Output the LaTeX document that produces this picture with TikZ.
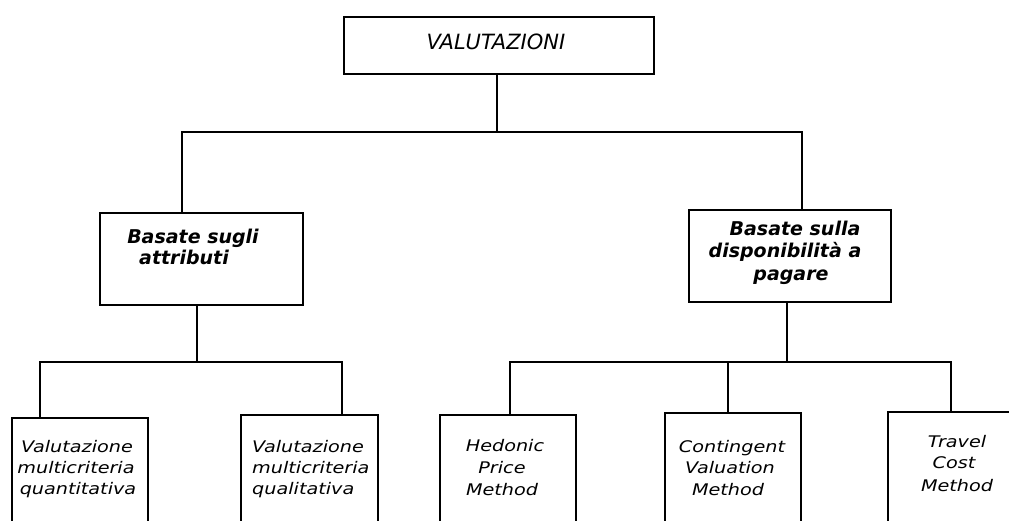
\documentclass[tikz,border=0pt]{standalone}
\usepackage{fontspec}
\setmainfont{DejaVu Sans}
\newfontfamily\lblfont[FakeStretch=1.2]{DejaVu Sans}
\tikzset{
  box/.style={draw, line width=1.6pt, inner sep=0pt, anchor=north west},
  conn/.style={line width=1.6pt},
  toptext/.style={font=\fontsize{21}{24}\selectfont\itshape, anchor=base, inner sep=0pt},
  midtext/.style={font=\fontsize{19}{22}\selectfont\bfseries\itshape, anchor=base, inner sep=0pt},
  lowtext/.style={font=\lblfont\fontsize{16}{20}\selectfont\itshape, anchor=base, inner sep=0pt},
}
\begin{document}
\begin{tikzpicture}[x=1pt, y=-1pt]
\clip (0,0) rectangle (1009,521);
\fill[white] (0,0) rectangle (1009,521);
% boxes
\node[box, minimum width=310pt, minimum height=57pt] (top) at (343,16) {};
\node[box, minimum width=203pt, minimum height=92pt] (midL) at (99,212) {};
\node[box, minimum width=202pt, minimum height=92pt] (midR) at (688,209) {};
\node[box, minimum width=136pt, minimum height=130pt] (b1) at (11,417) {};
\node[box, minimum width=137pt, minimum height=130pt] (b2) at (240,414) {};
\node[box, minimum width=136pt, minimum height=130pt] (b3) at (439,414) {};
\node[box, minimum width=136pt, minimum height=130pt] (b4) at (664,412) {};
\node[box, minimum width=136pt, minimum height=130pt] (b5) at (887,411) {};
% junction coordinates
\coordinate (busA) at (0,132);
\coordinate (busB) at (0,362);
\coordinate (xT) at (497,0);
\coordinate (xL) at (182,0);
\coordinate (xR) at (802,0);
\coordinate (xmL) at (197,0);
\coordinate (xmR) at (787,0);
\coordinate (x1) at (40,0);
\coordinate (x2) at (342,0);
\coordinate (x3) at (510,0);
\coordinate (x4) at (728,0);
\coordinate (x5) at (951,0);
% connectors level 1
\draw[conn] (top.south -| xT) -- (xT |- busA);
\draw[conn] (midL.north -| xL) -- (xL |- busA) -- (xR |- busA) -- (midR.north -| xR);
% connectors level 2 left
\draw[conn] (midL.south -| xmL) -- (xmL |- busB);
\draw[conn] (b1.north -| x1) -- (x1 |- busB) -- (x2 |- busB) -- (b2.north -| x2);
% connectors level 2 right
\draw[conn] (midR.south -| xmR) -- (xmR |- busB);
\draw[conn] (b3.north -| x3) -- (x3 |- busB) -- (x5 |- busB) -- (b5.north -| x5);
\draw[conn] (x4 |- busB) -- (b4.north -| x4);
% texts
\node[toptext] (tTop) at (496,50) {VALUTAZIONI};
\node[midtext] (tL1) at (193,244) {Basate sugli};
\node[midtext] (tL2) at (184,265) {attributi};
\node[midtext] (tR1) at (795,236) {Basate sulla};
\node[midtext] (tR2) at (785,258) {disponibilità a};
\node[midtext] (tR3) at (791,281) {pagare};
\node[lowtext] (t11) at (77,452) {Valutazione};
\node[lowtext] (t12) at (76,473) {multicriteria};
\node[lowtext] (t13) at (78,494) {quantitativa};
\node[lowtext, anchor=base west] (t21) at (252,452) {Valutazione};
\node[lowtext, anchor=base west] (t22) at (252,473) {multicriteria};
\node[lowtext, anchor=base west] (t23) at (252,494) {qualitativa};
\node[lowtext] (t31) at (505,451) {Hedonic};
\node[lowtext] (t32) at (502,473) {Price};
\node[lowtext] (t33) at (502,495) {Method};
\node[lowtext] (t41) at (732,452) {Contingent};
\node[lowtext] (t42) at (730,473) {Valuation};
\node[lowtext] (t43) at (728,495) {Method};
\node[lowtext] (t51) at (957,447) {Travel};
\node[lowtext] (t52) at (954,468) {Cost};
\node[lowtext] (t53) at (957,491) {Method};
\end{tikzpicture}
\end{document}
